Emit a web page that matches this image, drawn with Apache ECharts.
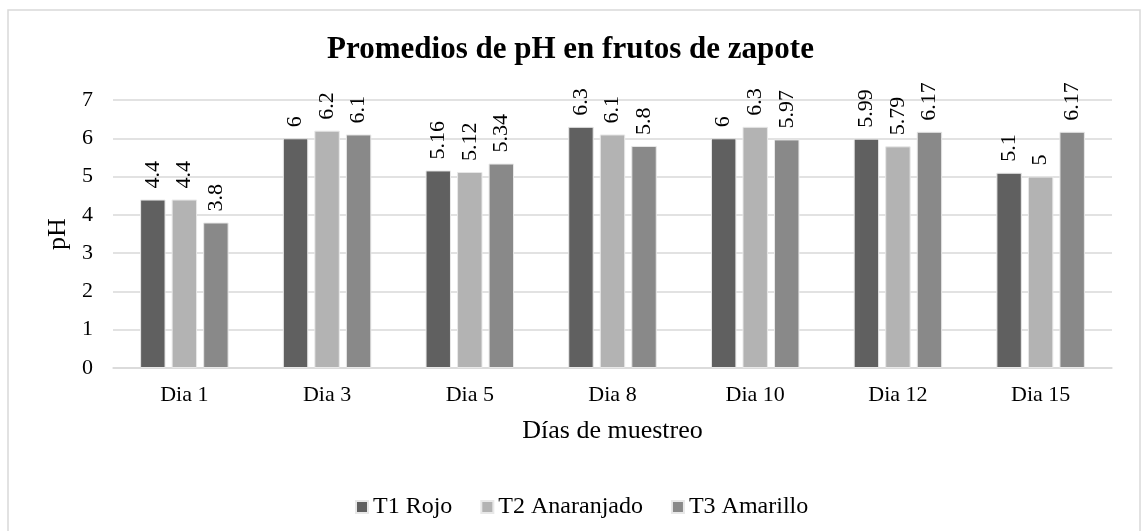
<!DOCTYPE html>
<html><head><meta charset="utf-8">
<script src="https://cdn.jsdelivr.net/npm/echarts@6/dist/echarts.min.js"></script>
<style>html,body{margin:0;padding:0;background:#fff}#c{width:1141px;height:531px}</style>
</head><body><div id="c"></div>
<script>
const categories = ['Dia 1','Dia 3','Dia 5','Dia 8','Dia 10','Dia 12','Dia 15'];
const t1Rojo = [4.4, 6, 5.16, 6.3, 6, 5.99, 5.1];
const t2Anaranjado = [4.4, 6.2, 5.12, 6.1, 6.3, 5.79, 5];
const t3Amarillo = [3.8, 6.1, 5.34, 5.8, 5.97, 6.17, 6.17];
const seriesNames = ['T1 Rojo','T2 Anaranjado','T3 Amarillo'];
const colors = ['#606060','#b3b3b3','#898989'];
const font = '"Liberation Serif","Times New Roman",serif';
const chart = echarts.init(document.getElementById('c'));
const mk = (name, data, color) => ({
  name, type:'bar', data,
  barGap:'24%', barCategoryGap:'38%',
  itemStyle:{color, borderColor:'#e8e8e8', borderWidth:1},
  label:{show:true, position:'top', rotate:90, align:'left', verticalAlign:'middle', distance:11,
    color:'#000', fontFamily:font, fontSize:22}
});
chart.setOption({
  animation:false,
  textStyle:{fontFamily:font},
  graphic:[{type:'rect', shape:{x:8,y:10,width:1132,height:540}, style:{fill:'none', stroke:'#d9d9d9', lineWidth:1.5}, silent:true}],
  title:{text:'Promedios de pH en frutos de zapote', left:'center', top:29,
    textStyle:{fontFamily:font, fontSize:31, fontWeight:'bold', color:'#000'}},
  grid:{left:113, right:29, top:100, bottom:163},
  legend:{top:490, left:350, itemWidth:12, itemHeight:12, itemGap:28, icon:'rect',
    textStyle:{fontFamily:font, fontSize:24, color:'#000'}, data:seriesNames},
  xAxis:{type:'category', data:categories,
    name:'Días de muestreo', nameLocation:'middle', nameGap:50,
    nameTextStyle:{fontFamily:font, fontSize:26, color:'#000'},
    axisLine:{lineStyle:{color:'#d9d9d9', width:1.5}}, axisTick:{show:false},
    axisLabel:{fontFamily:font, fontSize:22, color:'#000', margin:16}},
  yAxis:{type:'value', min:0, max:7, interval:1,
    name:'pH', nameLocation:'middle', nameGap:39, nameRotate:90,
    nameTextStyle:{fontFamily:font, fontSize:26, color:'#000'},
    axisLine:{show:false}, axisTick:{show:false},
    splitLine:{lineStyle:{color:'#d9d9d9', width:1.5}},
    axisLabel:{fontFamily:font, fontSize:22, color:'#000', margin:20}},
  series:[mk(seriesNames[0], t1Rojo, colors[0]), mk(seriesNames[1], t2Anaranjado, colors[1]), mk(seriesNames[2], t3Amarillo, colors[2])]
});
</script></body></html>
